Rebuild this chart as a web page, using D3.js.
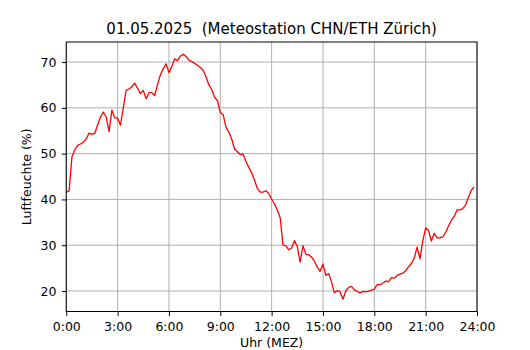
<!DOCTYPE html>
<html>
<head>
<meta charset="utf-8">
<script src="https://cdn.jsdelivr.net/npm/d3@7"></script>
<style>
  body { margin: 0; background: #fff; }
  svg { font-family: "DejaVu Sans", sans-serif; }
</style>
</head>
<body>
<div id="chart"></div>
<script>
// chart text
var titleText = "01.05.2025  (Meteostation CHN/ETH Zürich)";
var xLabel = "Uhr (MEZ)";
var yLabel = "Luftfeuchte (%)";

// tick values
var xTicks = [0, 180, 360, 540, 720, 900, 1080, 1260, 1440];
var xTickLabels = ["0:00", "3:00", "6:00", "9:00", "12:00", "15:00", "18:00", "21:00", "24:00"];
var yTicks = [20, 30, 40, 50, 60, 70];

// humidity every 10 minutes, 0:00 .. 23:50
var humidity = [
  41.6, 41.8, 49.3, 50.8, 51.8, 52.1, 52.5, 53.2, 54.5, 54.2,
  54.4, 56.3, 58.0, 59.1, 58.0, 54.8, 59.5, 57.8, 57.8, 56.2,
  60.0, 63.8, 64.1, 64.6, 65.4, 64.3, 63.1, 63.8, 62.0, 63.3,
  63.3, 62.7, 65.0, 67.2, 68.5, 69.6, 67.7, 69.0, 70.7, 70.3,
  71.3, 71.7, 71.2, 70.4, 70.1, 69.7, 69.3, 68.8, 68.2, 66.8,
  65.0, 64.0, 62.3, 61.6, 59.0, 58.5, 55.8, 54.7, 53.2, 51.0,
  50.4, 49.8, 49.9, 48.3, 47.0, 45.8, 44.2, 42.4, 41.6, 41.6,
  41.9, 41.3, 40.1, 39.0, 37.7, 36.0, 30.0, 29.9, 29.0, 29.4,
  31.0, 29.7, 26.3, 29.9, 28.0, 27.9, 27.4, 26.5, 25.2, 24.3,
  25.9, 23.4, 23.8, 22.0, 19.6, 20.1, 19.8, 18.2, 20.0, 20.8,
  21.0, 20.3, 19.9, 19.6, 19.9, 19.8, 20.0, 20.2, 20.4, 21.4,
  21.4, 21.7, 22.2, 22.0, 22.9, 22.8, 23.4, 23.7, 23.9, 24.4,
  25.3, 26.0, 27.2, 29.6, 27.0, 31.0, 33.8, 33.2, 30.9, 32.6,
  31.6, 31.6, 31.8, 32.8, 34.2, 35.4, 36.3, 37.7, 37.7, 38.0,
  38.8, 40.5, 42.0, 42.7
];

var width = 530;
var height = 350;

// axes box like matplotlib defaults
var axLeft = 66.25, axRight = 477, axTop = 42, axBottom = 311.5;
var fontSize = 12.5;

var svg = d3.select("#chart")
  .append("svg")
  .attr("width", width)
  .attr("height", height);

var x_Scale = d3.scaleLinear().domain([0, 1440]).range([axLeft, axRight]);

var yMin = d3.min(humidity), yMax = d3.max(humidity);
var yPad = (yMax - yMin) * 0.05;
var y_Scale = d3.scaleLinear().domain([yMin - yPad, yMax + yPad]).range([axBottom, axTop]);

// grid
var grid = svg.append("g").attr("class", "grid");
grid.selectAll("line.vx")
  .data(xTicks)
  .enter()
  .append("line")
  .attr("x1", function(d) { return x_Scale(d); })
  .attr("x2", function(d) { return x_Scale(d); })
  .attr("y1", axTop)
  .attr("y2", axBottom)
  .attr("stroke", "#b0b0b0")
  .attr("stroke-width", 1);
grid.selectAll("line.hy")
  .data(yTicks)
  .enter()
  .append("line")
  .attr("x1", axLeft)
  .attr("x2", axRight)
  .attr("y1", function(d) { return y_Scale(d); })
  .attr("y2", function(d) { return y_Scale(d); })
  .attr("stroke", "#b0b0b0")
  .attr("stroke-width", 1);

// humidity line
var line = d3.line()
  .x(function(d, i) { return x_Scale(i * 10); })
  .y(function(d) { return y_Scale(d); });

svg.append("path")
  .datum(humidity)
  .attr("d", line)
  .attr("fill", "none")
  .attr("stroke", "#ff0000")
  .attr("stroke-width", 1.3)
  .attr("stroke-linejoin", "round");

// axes
var x_Axis = d3.axisBottom(x_Scale)
  .tickValues(xTicks)
  .tickFormat(function(d, i) { return xTickLabels[i]; })
  .tickSize(4.4)
  .tickPadding(6.5)
  .tickSizeOuter(0);
var y_Axis = d3.axisLeft(y_Scale)
  .tickValues(yTicks)
  .tickSize(4.4)
  .tickPadding(5.5)
  .tickSizeOuter(0);

var gx = svg.append("g")
  .attr("transform", "translate(0," + axBottom + ")")
  .call(x_Axis);
var gy = svg.append("g")
  .attr("transform", "translate(" + axLeft + ",0)")
  .call(y_Axis);

[gx, gy].forEach(function(g) {
  g.select(".domain").remove();
  g.selectAll(".tick line").attr("stroke", "#000").attr("stroke-width", 1);
  g.selectAll(".tick text")
    .attr("fill", "#000")
    .style("font-family", "DejaVu Sans")
    .style("font-size", fontSize + "px");
});

// frame
svg.append("rect")
  .attr("x", axLeft)
  .attr("y", axTop)
  .attr("width", axRight - axLeft)
  .attr("height", axBottom - axTop)
  .attr("fill", "none")
  .attr("stroke", "#000")
  .attr("stroke-width", 1);

// title and labels
svg.append("text")
  .attr("x", (axLeft + axRight) / 2)
  .attr("y", 33.5)
  .attr("text-anchor", "middle")
  .style("font-size", "15px")
  .style("white-space", "pre")
  .text(titleText);

svg.append("text")
  .attr("x", (axLeft + axRight) / 2)
  .attr("y", 347)
  .attr("text-anchor", "middle")
  .style("font-size", fontSize + "px")
  .text(xLabel);

svg.append("text")
  .attr("transform", "translate(30.5," + ((axTop + axBottom) / 2) + ")rotate(-90)")
  .attr("text-anchor", "middle")
  .style("font-size", fontSize + "px")
  .text(yLabel);
</script>
</body>
</html>
